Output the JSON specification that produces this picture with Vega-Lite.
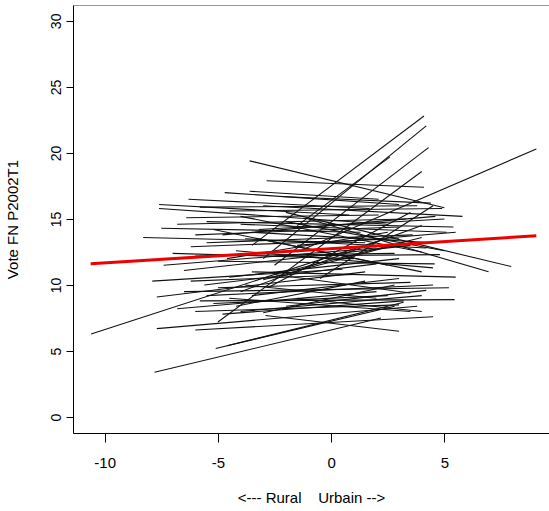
{
  "$schema": "https://vega.github.io/schema/vega-lite/v6.json",
  "width": 476,
  "height": 428,
  "autosize": {"type": "none"},
  "padding": {"left": 73, "top": 5, "right": 0, "bottom": 78},
  "config": {
    "view": {"stroke": null},
    "font": "Liberation Sans",
    "axis": {"grid": false, "domainColor": "black", "tickColor": "black", "labelColor": "black", "titleColor": "black", "titleFontWeight": "normal"}
  },
  "datasets": {
    "seg": [
      {"id":1,"x":-3.6,"y":19.4},{"id":1,"x":5.0,"y":15.85},
      {"id":2,"x":-2.85,"y":17.9},{"id":2,"x":4.1,"y":17.4},
      {"id":3,"x":-4.7,"y":17.0},{"id":3,"x":3.0,"y":16.1},
      {"id":4,"x":-3.6,"y":17.1},{"id":4,"x":2.1,"y":16.5},
      {"id":5,"x":-7.6,"y":16.1},{"id":5,"x":0.8,"y":15.3},
      {"id":6,"x":-7.6,"y":15.8},{"id":6,"x":2.5,"y":14.6},
      {"id":7,"x":-6.3,"y":16.5},{"id":7,"x":1.7,"y":15.8},
      {"id":8,"x":-6.4,"y":15.1},{"id":8,"x":2.1,"y":15.3},
      {"id":9,"x":-7.5,"y":14.3},{"id":9,"x":1.3,"y":14.0},
      {"id":10,"x":-8.3,"y":13.6},{"id":10,"x":1.5,"y":13.2},
      {"id":11,"x":-6.2,"y":12.9},{"id":11,"x":3.0,"y":13.5},
      {"id":12,"x":-3.5,"y":13.0},{"id":12,"x":4.1,"y":22.8},
      {"id":13,"x":-3.0,"y":12.0},{"id":13,"x":4.2,"y":22.05},
      {"id":14,"x":-2.5,"y":11.5},{"id":14,"x":4.3,"y":20.4},
      {"id":15,"x":-1.5,"y":14.5},{"id":15,"x":2.6,"y":19.7},
      {"id":16,"x":-5.0,"y":7.2},{"id":16,"x":4.0,"y":18.6},
      {"id":17,"x":-1.5,"y":12.5},{"id":17,"x":9.06,"y":20.3},
      {"id":18,"x":-2.0,"y":15.5},{"id":18,"x":7.95,"y":11.4},
      {"id":19,"x":-1.0,"y":15.0},{"id":19,"x":6.95,"y":11.0},
      {"id":20,"x":-4.5,"y":15.6},{"id":20,"x":4.9,"y":15.8},
      {"id":21,"x":-3.0,"y":16.0},{"id":21,"x":5.8,"y":15.2},
      {"id":22,"x":-5.5,"y":14.8},{"id":22,"x":5.4,"y":14.4},
      {"id":23,"x":-4.0,"y":14.6},{"id":23,"x":5.1,"y":14.0},
      {"id":24,"x":-5.8,"y":15.9},{"id":24,"x":3.8,"y":16.0},
      {"id":25,"x":-2.2,"y":16.7},{"id":25,"x":4.4,"y":16.2},
      {"id":26,"x":-6.8,"y":14.6},{"id":26,"x":3.3,"y":15.0},
      {"id":27,"x":-4.8,"y":13.8},{"id":27,"x":4.6,"y":15.2},
      {"id":28,"x":-3.2,"y":14.2},{"id":28,"x":5.0,"y":15.0},
      {"id":29,"x":-7.4,"y":11.5},{"id":29,"x":2.0,"y":12.8},
      {"id":30,"x":-6.0,"y":12.2},{"id":30,"x":2.8,"y":12.4},
      {"id":31,"x":-5.0,"y":11.8},{"id":31,"x":4.57,"y":11.6},
      {"id":32,"x":-4.2,"y":12.6},{"id":32,"x":4.5,"y":11.3},
      {"id":33,"x":-3.5,"y":11.0},{"id":33,"x":5.5,"y":10.6},
      {"id":34,"x":-6.5,"y":11.1},{"id":34,"x":3.5,"y":13.0},
      {"id":35,"x":-5.5,"y":13.2},{"id":35,"x":3.6,"y":13.8},
      {"id":36,"x":-4.5,"y":10.6},{"id":36,"x":3.0,"y":12.0},
      {"id":37,"x":-3.8,"y":13.5},{"id":37,"x":4.2,"y":12.8},
      {"id":38,"x":-2.5,"y":12.2},{"id":38,"x":4.8,"y":12.3},
      {"id":39,"x":-7.0,"y":12.4},{"id":39,"x":1.0,"y":12.0},
      {"id":40,"x":-4.6,"y":12.0},{"id":40,"x":2.5,"y":14.0},
      {"id":41,"x":-3.0,"y":10.4},{"id":41,"x":3.2,"y":13.2},
      {"id":42,"x":-5.6,"y":10.0},{"id":42,"x":2.0,"y":11.6},
      {"id":43,"x":-2.0,"y":11.0},{"id":43,"x":4.0,"y":13.6},
      {"id":44,"x":-6.0,"y":13.8},{"id":44,"x":3.0,"y":14.4},
      {"id":45,"x":-1.5,"y":13.0},{"id":45,"x":5.5,"y":14.0},
      {"id":46,"x":-3.5,"y":14.0},{"id":46,"x":4.5,"y":13.2},
      {"id":47,"x":-4.0,"y":9.5},{"id":47,"x":4.0,"y":14.5},
      {"id":48,"x":-2.8,"y":9.8},{"id":48,"x":3.5,"y":15.5},
      {"id":49,"x":-0.5,"y":10.5},{"id":49,"x":4.5,"y":16.0},
      {"id":50,"x":-10.6,"y":6.3},{"id":50,"x":2.0,"y":13.3},
      {"id":51,"x":-7.9,"y":10.3},{"id":51,"x":0.5,"y":11.2},
      {"id":52,"x":-7.7,"y":9.1},{"id":52,"x":1.5,"y":11.0},
      {"id":53,"x":-6.5,"y":9.5},{"id":53,"x":5.2,"y":9.8},
      {"id":54,"x":-5.8,"y":8.8},{"id":54,"x":5.45,"y":8.9},
      {"id":55,"x":-6.0,"y":8.0},{"id":55,"x":3.0,"y":8.5},
      {"id":56,"x":-5.2,"y":8.6},{"id":56,"x":2.5,"y":9.2},
      {"id":57,"x":-4.5,"y":9.0},{"id":57,"x":3.5,"y":8.0},
      {"id":58,"x":-6.8,"y":8.2},{"id":58,"x":2.0,"y":9.5},
      {"id":59,"x":-4.0,"y":8.0},{"id":59,"x":4.0,"y":9.2},
      {"id":60,"x":-5.0,"y":9.8},{"id":60,"x":3.5,"y":10.2},
      {"id":61,"x":-3.5,"y":9.2},{"id":61,"x":3.0,"y":10.5},
      {"id":62,"x":-6.2,"y":10.3},{"id":62,"x":1.0,"y":10.8},
      {"id":63,"x":-2.0,"y":8.4},{"id":63,"x":4.2,"y":9.6},
      {"id":64,"x":-4.8,"y":7.8},{"id":64,"x":3.2,"y":8.8},
      {"id":65,"x":-3.0,"y":7.9},{"id":65,"x":2.8,"y":10.0},
      {"id":66,"x":-5.5,"y":9.2},{"id":66,"x":4.5,"y":10.0},
      {"id":67,"x":-7.7,"y":6.7},{"id":67,"x":3.8,"y":8.4},
      {"id":68,"x":-6.0,"y":6.6},{"id":68,"x":4.5,"y":7.6},
      {"id":69,"x":-7.8,"y":3.4},{"id":69,"x":2.2,"y":7.5},
      {"id":70,"x":-2.9,"y":7.7},{"id":70,"x":3.0,"y":6.5},
      {"id":71,"x":-5.1,"y":5.2},{"id":71,"x":2.8,"y":8.4},
      {"id":72,"x":-4.6,"y":5.4},{"id":72,"x":3.2,"y":8.7},
      {"id":73,"x":-1.5,"y":9.0},{"id":73,"x":4.0,"y":8.0},
      {"id":74,"x":-3.8,"y":10.0},{"id":74,"x":2.0,"y":9.0},
      {"id":75,"x":-4.2,"y":8.4},{"id":75,"x":1.5,"y":10.3},
      {"id":76,"x":-2.5,"y":10.8},{"id":76,"x":3.5,"y":9.4},
      {"id":77,"x":-4.0,"y":15.2},{"id":77,"x":4.0,"y":12.5},
      {"id":78,"x":-2.0,"y":14.8},{"id":78,"x":5.0,"y":12.6},
      {"id":79,"x":-3.2,"y":13.5},{"id":79,"x":4.0,"y":11.0},
      {"id":80,"x":-5.2,"y":14.2},{"id":80,"x":2.5,"y":11.5}
    ],
    "fit": [
      {"x": -10.62, "y": 11.61},
      {"x": 9.06, "y": 13.73}
    ]
  },
  "layer": [
    {
      "data": {"name": "seg"},
      "mark": {"type": "line", "color": "#111111", "strokeWidth": 1.1},
      "encoding": {
        "x": {
          "field": "x", "type": "quantitative",
          "scale": {"domain": [-11.4, 9.62], "nice": false, "zero": false},
          "axis": {"values": [-10, -5, 0, 5], "labelExpr": "'' + datum.value", "tickSize": 9, "labelFontSize": 15, "labelPadding": 13, "title": "<--- Rural\u00a0\u00a0\u00a0\u00a0Urbain -->", "titleFontSize": 15, "titlePadding": 20, "labelFlush": false}
        },
        "y": {
          "field": "y", "type": "quantitative",
          "scale": {"domain": [-1.2, 31.2], "nice": false, "zero": false},
          "axis": {"values": [0, 5, 10, 15, 20, 25, 30], "labelExpr": "'' + datum.value", "tickSize": 7, "labelAngle": 270, "labelAlign": "center", "labelBaseline": "middle", "labelFontSize": 14, "labelPadding": 10, "title": "Vote FN P2002T1", "titleFontSize": 15, "titlePadding": 29, "labelFlush": false}
        },
        "detail": {"field": "id", "type": "nominal"}
      }
    },
    {
      "data": {"name": "fit"},
      "mark": {"type": "line", "color": "#ee0000", "strokeWidth": 3},
      "encoding": {
        "x": {"field": "x", "type": "quantitative", "axis": {"orient": "top", "labels": false, "ticks": false, "title": null, "domainColor": "#999999"}},
        "y": {"field": "y", "type": "quantitative"}
      }
    }
  ],
  "resolve": {"axis": {"x": "independent"}}
}
